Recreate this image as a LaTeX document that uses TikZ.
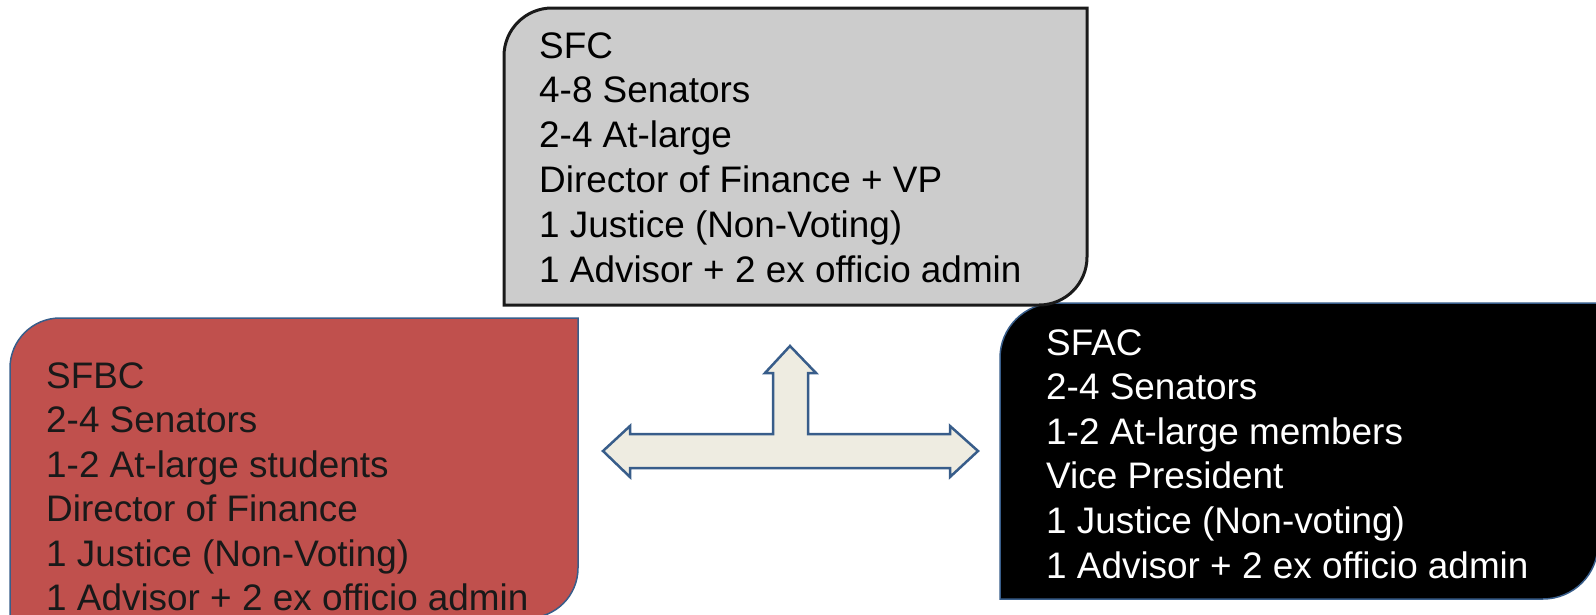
\documentclass[tikz,border=0pt]{standalone}
\usepackage{fontspec}
\setmainfont{Liberation Sans}
\definecolor{sfcgray}{HTML}{CCCCCC}
\definecolor{sfcline}{HTML}{1A1A1A}
\definecolor{sfbcred}{HTML}{C0504D}
\definecolor{outlineblue}{HTML}{385D8A}
\definecolor{arrowfill}{HTML}{EEECE1}
\begin{document}
\begin{tikzpicture}[x=1pt,y=1pt,
  linetext/.style={inner sep=0pt, anchor=base west, font=\fontsize{36.9}{44.8}\selectfont},
  grayboxstyle/.style={fill=sfcgray, draw=sfcline, line width=3pt},
  redboxstyle/.style={fill=sfbcred, draw=outlineblue, line width=1.5pt},
  blackboxstyle/.style={fill=black, draw=outlineblue, line width=1.5pt},
  arrowstyle/.style={fill=arrowfill, draw=outlineblue, line width=2.5pt, line join=miter}]
\useasboundingbox (0,0) rectangle (1596,-614);
\clip (0,0) rectangle (1596,-614);
% SFBC box (red)
\draw[redboxstyle] (10,-450) -- (10,-368) arc[start angle=180,end angle=90,radius=50] -- (578,-318) -- (578,-568) arc[start angle=0,end angle=-90,radius=50] -- (10,-618) -- cycle;
% SFAC box (black)
\draw[blackboxstyle] (1000,-450) -- (1000,-358) arc[start angle=180,end angle=90,radius=55] -- (1598,-303) -- (1598,-544) arc[start angle=0,end angle=-90,radius=55] -- (1000,-599) -- cycle;
% SFC box (gray)
\draw[grayboxstyle] (504,-150) -- (504,-56) arc[start angle=180,end angle=90,radius=48] -- (1087,-8) -- (1087,-257) arc[start angle=0,end angle=-90,radius=48] -- (504,-305) -- cycle;
% Arrow
\draw[arrowstyle] (603,-451) -- (630,-426) -- (630,-434) -- (773,-434) -- (773,-373) -- (765,-373) -- (790,-346) -- (816,-373) -- (808,-373) -- (808,-434) -- (950,-434) -- (950,-426) -- (978,-451) -- (950,-477) -- (950,-468) -- (630,-468) -- (630,-477) -- cycle;
% Texts
\foreach \t [count=\i] in {SFC,4-8 Senators,2-4 At-large,Director of Finance + VP,1 Justice (Non-Voting),1 Advisor + 2 ex officio admin}
  \node[linetext, text=black] (sfc\i) at (539,{-58-44.8*(\i-1)}) {\t};
\foreach \t [count=\i] in {SFBC,2-4 Senators,1-2 At-large students,Director of Finance,1 Justice (Non-Voting),1 Advisor + 2 ex officio admin}
  \node[linetext, text=black!90] (sfbc\i) at (46,{-388-44.5*(\i-1)}) {\t};
\foreach \t [count=\i] in {SFAC,2-4 Senators,1-2 At-large members,Vice President,1 Justice (Non-voting),1 Advisor + 2 ex officio admin}
  \node[linetext, text=white] (sfac\i) at (1046,{-355-44.6*(\i-1)}) {\t};
\end{tikzpicture}
\end{document}
